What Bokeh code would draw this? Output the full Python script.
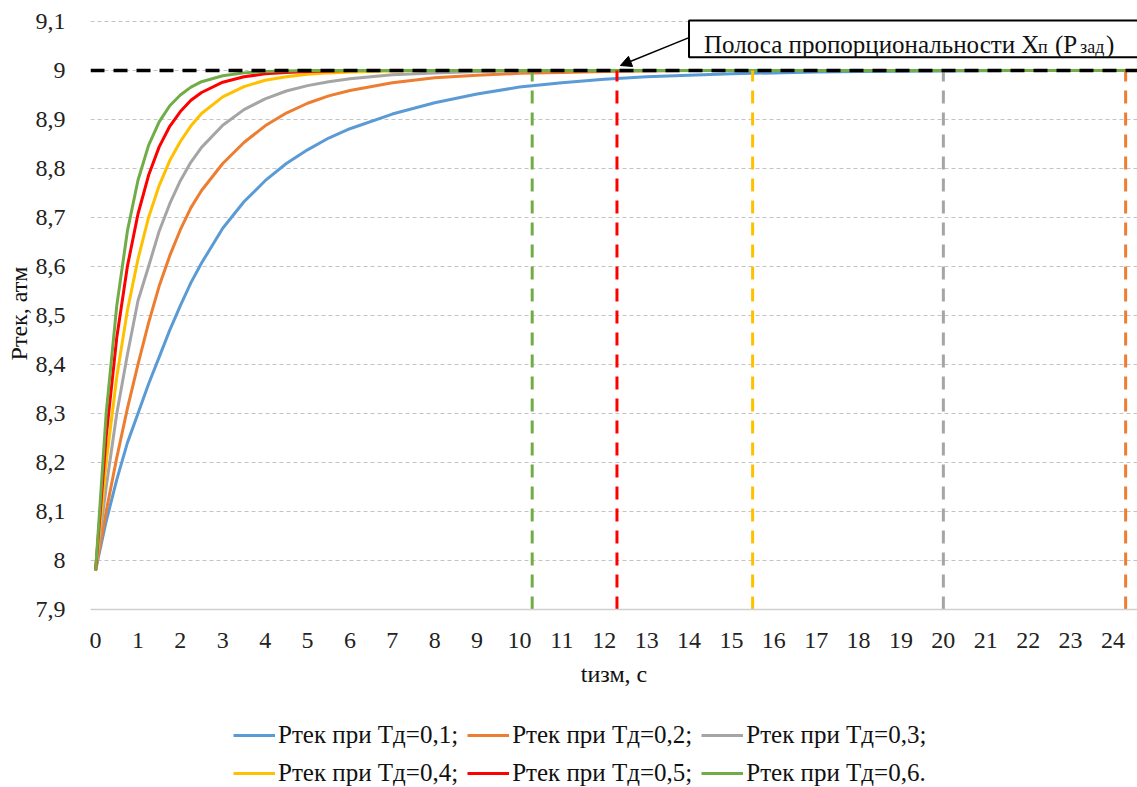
from bokeh.plotting import figure
from bokeh.layouts import column
from bokeh.models import (FixedTicker, CustomJSTickFormatter, Span, Arrow, NormalHead,
                          Label, Legend, LegendItem, Range1d)
from bokeh.embed import file_html
from bokeh.resources import INLINE

# Время измерения, с
t = [0, 0.25, 0.5, 0.75, 1, 1.25, 1.5, 1.75, 2, 2.25, 2.5,
     3, 3.5, 4, 4.5, 5, 5.5, 6,
     7, 8, 9, 10, 11, 12, 13, 14, 15, 16, 17, 18,
     20, 22, 24.6]

# Текущее давление, атм, для разных Тд
p_td01 = [7.98, 8.08, 8.165, 8.24, 8.30, 8.36, 8.415, 8.47, 8.52, 8.567, 8.607,
          8.678, 8.732, 8.775, 8.81, 8.838, 8.862, 8.881,
          8.911, 8.934, 8.952, 8.966, 8.975, 8.982, 8.987, 8.99, 8.993, 8.995, 8.997, 8.998,
          8.999, 9.0, 9.0]
p_td02 = [7.98, 8.10, 8.21, 8.31, 8.40, 8.485, 8.56, 8.622, 8.675, 8.72, 8.755,
          8.81, 8.853, 8.887, 8.913, 8.933, 8.948, 8.959,
          8.975, 8.985, 8.99, 8.994, 8.996, 8.998, 8.999, 9.0, 9.0, 9.0, 9.0, 9.0,
          9.0, 9.0, 9.0]
p_td03 = [7.98, 8.15, 8.30, 8.42, 8.53, 8.60, 8.672, 8.728, 8.775, 8.813, 8.843,
          8.888, 8.92, 8.942, 8.958, 8.969, 8.977, 8.983,
          8.991, 8.995, 8.998, 8.999, 9.0, 9.0, 9.0, 9.0, 9.0, 9.0, 9.0, 9.0,
          9.0, 9.0, 9.0]
p_td04 = [7.98, 8.20, 8.375, 8.51, 8.615, 8.70, 8.765, 8.816, 8.855, 8.887, 8.912,
          8.946, 8.967, 8.98, 8.987, 8.992, 8.995, 8.997,
          8.999, 9.0, 9.0, 9.0, 9.0, 9.0, 9.0, 9.0, 9.0, 9.0, 9.0, 9.0,
          9.0, 9.0, 9.0]
p_td05 = [7.98, 8.253, 8.455, 8.60, 8.707, 8.786, 8.844, 8.886, 8.916, 8.939, 8.955,
          8.976, 8.987, 8.993, 8.996, 8.998, 8.999, 9.0,
          9.0, 9.0, 9.0, 9.0, 9.0, 9.0, 9.0, 9.0, 9.0, 9.0, 9.0, 9.0,
          9.0, 9.0, 9.0]
p_td06 = [7.98, 8.30, 8.52, 8.672, 8.776, 8.847, 8.895, 8.928, 8.95, 8.966, 8.977,
          8.989, 8.995, 8.998, 8.999, 9.0, 9.0, 9.0,
          9.0, 9.0, 9.0, 9.0, 9.0, 9.0, 9.0, 9.0, 9.0, 9.0, 9.0, 9.0,
          9.0, 9.0, 9.0]

series = [p_td01, p_td02, p_td03, p_td04, p_td05, p_td06]
labels = ["Ртек при Тд=0,1;", "Ртек при Тд=0,2;", "Ртек при Тд=0,3;",
          "Ртек при Тд=0,4;", "Ртек при Тд=0,5;", "Ртек при Тд=0,6."]
colors = ["#5B9BD5", "#ED7D31", "#A5A5A5", "#FFC000", "#FF0000", "#70AD47"]

# Заданное давление и моменты входа в полосу пропорциональности (Тд=0,2 ... 0,6)
p_set = 9.0
p_min = 7.9
settle_t = [24.3, 20.0, 15.5, 12.3, 10.3]
settle_colors = ["#ED7D31", "#A5A5A5", "#FFC000", "#FF0000", "#70AD47"]

x_ticks = list(range(0, 25))
y_ticks = [round(7.9 + 0.1 * i, 1) for i in range(13)]

FONT = "Liberation Serif"
W = 1137

p = figure(width=W, height=700, x_range=(-0.12, 24.58), y_range=(7.9, 9.108),
           output_backend="svg", toolbar_location=None,
           min_border_left=90, min_border_right=0, min_border_top=17,
           min_border_bottom=91)
p.outline_line_color = None

p.xgrid.visible = False
p.ygrid.ticker = FixedTicker(ticks=y_ticks)
p.ygrid.grid_line_color = "#c4c4c4"
p.ygrid.grid_line_dash = "4 3"
p.ygrid.grid_line_width = 1

p.xaxis.ticker = FixedTicker(ticks=x_ticks)
p.yaxis.ticker = FixedTicker(ticks=y_ticks)
p.yaxis.formatter = CustomJSTickFormatter(
    code="var s = tick.toFixed(1).replace('.', ','); return s.endsWith(',0') ? s.slice(0, -2) : s;")

for ax in (p.xaxis, p.yaxis):
    ax.major_tick_line_color = None
    ax.minor_tick_line_color = None
    ax.major_label_text_font = FONT
    ax.major_label_text_font_size = "24px"
    ax.major_label_text_color = "#222222"
    ax.axis_label_text_font = FONT
    ax.axis_label_text_font_size = "24px"
    ax.axis_label_text_font_style = "normal"
    ax.axis_label_text_color = "#111111"

p.xaxis.axis_line_color = "#d0d0d0"
p.xaxis.axis_line_width = 1.5
p.yaxis.axis_line_color = None
p.xaxis.major_label_standoff = 17
p.yaxis.major_label_standoff = 19
p.xaxis.axis_label = "tизм, с"
p.yaxis.axis_label = "Ртек, атм"
p.xaxis.axis_label_standoff = 10
p.yaxis.axis_label_standoff = 1

# Кривые переходного процесса
for vals, col in zip(series, colors):
    p.line(t, vals, line_color=col, line_width=3)

# Вертикальные отметки времени входа в полосу
p.segment(x0=settle_t, y0=[p_min] * len(settle_t), x1=settle_t, y1=[p_set] * len(settle_t),
          line_color=settle_colors, line_width=3, line_dash="13 9")

# Заданное значение
p.add_layout(Span(location=p_set, dimension="width", line_color="black",
                  line_width=3.5, line_dash="14 9"))

# Подпись полосы пропорциональности (рамка уходит за правый край области)
box_left, box_bottom, box_top = 14.0, 9.027, 9.102
p.quad(left=[box_left], right=[30], bottom=[box_bottom], top=[box_top],
       fill_color="white", line_color="black", line_width=2)
p.add_layout(Arrow(end=NormalHead(size=11, fill_color="black", line_color="black"),
                   x_start=box_left, y_start=9.067, x_end=12.38, y_end=9.010,
                   line_color="black", line_width=1.5))
text_y = 9.053
pieces = [("Полоса пропорциональности X", 15, 0, "25px"),
          ("п", 349, -3, "18px"),
          ("(P", 366, 0, "25px"),
          ("зад", 391, -3, "18px"),
          (")", 417, 0, "25px")]
for txt, dx, dy, size in pieces:
    p.add_layout(Label(x=box_left, y=text_y, x_offset=dx, y_offset=dy, text=txt,
                       text_font=FONT, text_font_size=size, text_color="#111111",
                       text_baseline="alphabetic", text_align="left"))

# Легенда под графиком
leg = figure(width=W, height=87, x_range=Range1d(0, 1), y_range=Range1d(0, 1),
             output_backend="svg", toolbar_location=None,
             min_border_left=0, min_border_right=0, min_border_top=0, min_border_bottom=0)
leg.outline_line_color = None
leg.axis.visible = False
leg.grid.visible = False
leg_renderers = []
for vals, col in zip(series, colors):
    leg_renderers.append(leg.line([x + 100 for x in t], vals, line_color=col, line_width=3))

legend = Legend(items=[LegendItem(label=lab, renderers=[r]) for lab, r in zip(labels, leg_renderers)],
                orientation="horizontal", ncols=3,
                label_text_font=FONT, label_text_font_size="25px",
                label_text_color="#111111", label_text_baseline="middle",
                glyph_width=42, glyph_height=20, label_standoff=3, label_height=29,
                spacing=9, padding=0, margin=0,
                border_line_alpha=0, background_fill_alpha=0,
                location=(143, 0))
leg.add_layout(legend)

open("out.html", "w").write(file_html(column(p, leg, spacing=0), INLINE))
